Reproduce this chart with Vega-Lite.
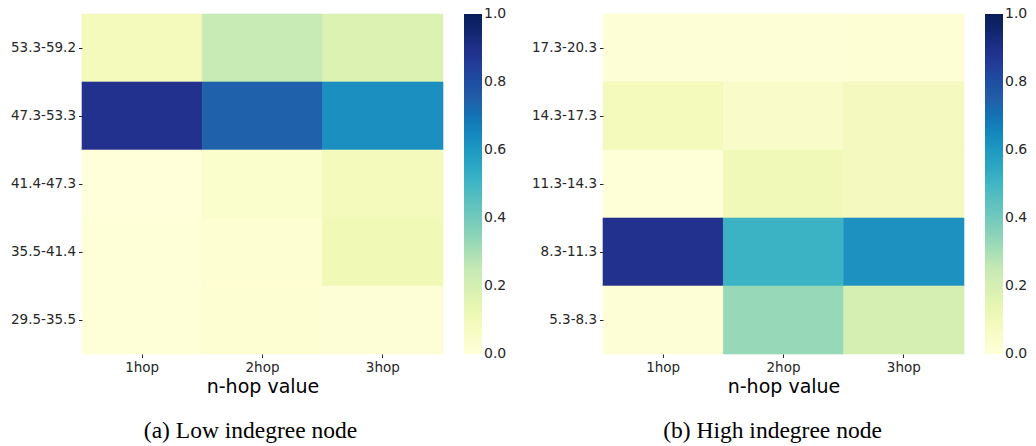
{
  "$schema": "https://vega.github.io/schema/vega-lite/v6.json",
  "background": "white",
  "padding": {"left": 10, "top": 13, "right": 0, "bottom": 0},
  "spacing": 24,
  "config": {
    "view": {"stroke": null},
    "font": "DejaVu Sans",
    "axis": {
      "labelFont": "DejaVu Sans",
      "labelFontSize": 13.5,
      "labelColor": "#262626",
      "tickColor": "#262626",
      "tickSize": 3.5,
      "tickWidth": 1,
      "labelPadding": 3,
      "domain": false,
      "grid": false,
      "titleFont": "DejaVu Sans",
      "titleFontSize": 19,
      "titleFontWeight": "normal",
      "titleColor": "#000000",
      "titlePadding": 3
    },
    "legend": {
      "gradientLength": 340,
      "gradientThickness": 18,
      "gradientStrokeWidth": 0,
      "labelFont": "DejaVu Sans",
      "labelFontSize": 14,
      "labelColor": "#262626",
      "labelOffset": 8,
      "offset": 21,
      "padding": 0
    },
    "title": {
      "font": "Liberation Serif",
      "fontSize": 23.5,
      "fontWeight": "normal",
      "color": "#000000"
    }
  },
  "datasets": {
    "low": [
      {"bin": "53.3-59.2", "hop": "1hop", "v": 0.09},
      {"bin": "53.3-59.2", "hop": "2hop", "v": 0.245},
      {"bin": "53.3-59.2", "hop": "3hop", "v": 0.18},
      {"bin": "47.3-53.3", "hop": "1hop", "v": 0.89},
      {"bin": "47.3-53.3", "hop": "2hop", "v": 0.74},
      {"bin": "47.3-53.3", "hop": "3hop", "v": 0.63},
      {"bin": "41.4-47.3", "hop": "1hop", "v": 0.0},
      {"bin": "41.4-47.3", "hop": "2hop", "v": 0.04},
      {"bin": "41.4-47.3", "hop": "3hop", "v": 0.09},
      {"bin": "35.5-41.4", "hop": "1hop", "v": 0.005},
      {"bin": "35.5-41.4", "hop": "2hop", "v": 0.02},
      {"bin": "35.5-41.4", "hop": "3hop", "v": 0.11},
      {"bin": "29.5-35.5", "hop": "1hop", "v": 0.005},
      {"bin": "29.5-35.5", "hop": "2hop", "v": 0.02},
      {"bin": "29.5-35.5", "hop": "3hop", "v": 0.01}
    ],
    "high": [
      {"bin": "17.3-20.3", "hop": "1hop", "v": 0.01},
      {"bin": "17.3-20.3", "hop": "2hop", "v": 0.01},
      {"bin": "17.3-20.3", "hop": "3hop", "v": 0.015},
      {"bin": "14.3-17.3", "hop": "1hop", "v": 0.09},
      {"bin": "14.3-17.3", "hop": "2hop", "v": 0.05},
      {"bin": "14.3-17.3", "hop": "3hop", "v": 0.08},
      {"bin": "11.3-14.3", "hop": "1hop", "v": 0.005},
      {"bin": "11.3-14.3", "hop": "2hop", "v": 0.1},
      {"bin": "11.3-14.3", "hop": "3hop", "v": 0.08},
      {"bin": "8.3-11.3", "hop": "1hop", "v": 0.89},
      {"bin": "8.3-11.3", "hop": "2hop", "v": 0.51},
      {"bin": "8.3-11.3", "hop": "3hop", "v": 0.625},
      {"bin": "5.3-8.3", "hop": "1hop", "v": 0.01},
      {"bin": "5.3-8.3", "hop": "2hop", "v": 0.33},
      {"bin": "5.3-8.3", "hop": "3hop", "v": 0.2}
    ]
  },
  "hconcat": [
    {
      "name": "L",
      "width": 361,
      "height": 340,
      "data": {"name": "low"},
      "title": {"text": "(a) Low indegree node", "orient": "bottom", "anchor": "middle", "frame": "group", "dx": -12, "offset": 23},
      "mark": {"type": "rect", "strokeWidth": 0.6, "stroke": {"expr": "scale('L_color', datum.v)"}},
      "encoding": {
        "x": {"field": "hop", "type": "nominal", "sort": ["1hop", "2hop", "3hop"], "scale": {"paddingInner": 0, "paddingOuter": 0}, "axis": {"title": "n-hop value", "labelAngle": 0}},
        "y": {"field": "bin", "type": "nominal", "sort": ["53.3-59.2", "47.3-53.3", "41.4-47.3", "35.5-41.4", "29.5-35.5"], "scale": {"paddingInner": 0, "paddingOuter": 0}, "axis": {"title": null}},
        "color": {
          "field": "v", "type": "quantitative",
          "scale": {"domain": [0, 0.125, 0.25, 0.375, 0.5, 0.625, 0.75, 0.875, 1], "range": ["#ffffd9", "#edf8b1", "#c7e9b4", "#7fcdbb", "#41b6c4", "#1d91c0", "#225ea8", "#253494", "#081d58"]},
          "legend": {"title": null, "values": [0, 0.2, 0.4, 0.6, 0.8, 1.0], "format": ".1f", "direction": "vertical", "orient": "right", "type": "gradient", "encode": {"labels": {"update": {"baseline": {"value": "middle"}}}}}
        }
      }
    },
    {
      "name": "R",
      "width": 361,
      "height": 340,
      "data": {"name": "high"},
      "title": {"text": "(b) High indegree node", "orient": "bottom", "anchor": "middle", "frame": "group", "dx": -11, "offset": 23},
      "mark": {"type": "rect", "strokeWidth": 0.6, "stroke": {"expr": "scale('R_color', datum.v)"}},
      "encoding": {
        "x": {"field": "hop", "type": "nominal", "sort": ["1hop", "2hop", "3hop"], "scale": {"paddingInner": 0, "paddingOuter": 0}, "axis": {"title": "n-hop value", "labelAngle": 0}},
        "y": {"field": "bin", "type": "nominal", "sort": ["17.3-20.3", "14.3-17.3", "11.3-14.3", "8.3-11.3", "5.3-8.3"], "scale": {"paddingInner": 0, "paddingOuter": 0}, "axis": {"title": null}},
        "color": {
          "field": "v", "type": "quantitative",
          "scale": {"domain": [0, 0.125, 0.25, 0.375, 0.5, 0.625, 0.75, 0.875, 1], "range": ["#ffffd9", "#edf8b1", "#c7e9b4", "#7fcdbb", "#41b6c4", "#1d91c0", "#225ea8", "#253494", "#081d58"]},
          "legend": {"title": null, "values": [0, 0.2, 0.4, 0.6, 0.8, 1.0], "format": ".1f", "direction": "vertical", "orient": "right", "type": "gradient", "encode": {"labels": {"update": {"baseline": {"value": "middle"}}}}}
        }
      }
    }
  ],
  "resolve": {"scale": {"color": "independent"}, "legend": {"color": "independent"}}
}
